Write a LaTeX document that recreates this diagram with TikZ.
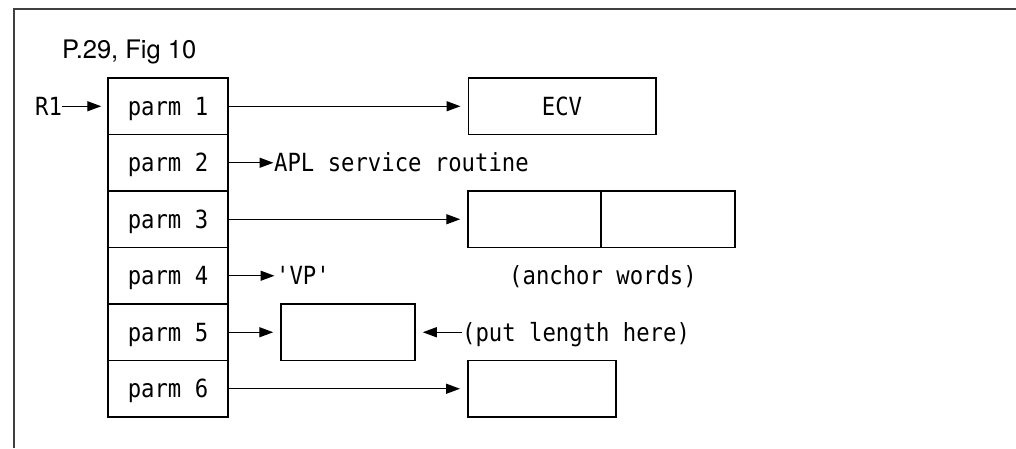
\documentclass[tikz,border=0pt]{standalone}
\usepackage{fontspec}
\setmainfont{TeX Gyre Heros}
\newfontfamily\monof[FakeStretch=0.89]{DejaVu Sans Mono}
\usetikzlibrary{arrows.meta}
\tikzset{
  mono/.style={font=\monof\fontsize{25}{30}\selectfont, text height=18.2pt, text depth=0pt, inner sep=0pt},
  cell/.style={mono, draw, line width=1.5pt, minimum width=120pt, minimum height=56.5pt},
  box/.style={draw, line width=1.5pt, minimum height=56.5pt, inner sep=0pt},
  lbl/.style={mono},
  arr/.style={line width=1.4pt, -{Triangle[length=14pt,width=10pt]}},
}
\begin{document}
\begin{tikzpicture}[x=1pt,y=-1pt]
\useasboundingbox (0,0) rectangle (1016,448);
\draw[line width=1.6pt, black!75] (14,448) -- (14,9) -- (1016,9);
\node[anchor=base west, inner sep=0pt, font=\fontsize{25.5}{30}\selectfont] (title) at (62,58.3) {P.29, Fig 10};
% column
\node[cell] (p1) at (168,106.25) {parm 1};
\node[cell] (p2) at (168,162.75) {parm 2};
\node[cell] (p3) at (168,219.25) {parm 3};
\node[cell] (p4) at (168,275.75) {parm 4};
\node[cell] (p5) at (168,332.25) {parm 5};
\node[cell] (p6) at (168,388.75) {parm 6};
% targets
\node[box, mono, minimum width=187.5pt] (ecv) at (562,106.25) {ECV};
\node[box, minimum width=133pt] (a3l) at (534.5,219.25) {};
\node[box, minimum width=134pt] (a3r) at (668,219.25) {};
\node[box, minimum width=134pt] (b5) at (348,332.25) {};
\node[box, minimum width=148pt] (b6) at (541.75,388.75) {};
% labels
\node[lbl, anchor=west] (r1) at (35,106.25) {R1};
\node[lbl, anchor=west] (apl) at (274,162.75) {APL service routine};
\node[lbl, anchor=west] (vp) at (276,275.75) {'VP'};
\node[lbl] (anch) at (603,275.75) {(anchor words)};
\node[lbl, anchor=west] (put) at (462,332.25) {(put length here)};
% connectors
\draw[arr, shorten >=6pt] (r1) -- (p1);
\draw[arr, shorten >=7pt] (p1) -- (ecv);
\draw[arr, shorten >=0.5pt] (p2) -- (apl);
\draw[arr, shorten >=1.5pt] (p4) -- (vp);
\draw[arr, shorten >=7pt] (p3) -- (a3l);
\draw[arr, shorten >=7pt] (p5) -- (b5);
\draw[arr, shorten >=7pt] (put) -- (b5);
\draw[arr, shorten >=7pt] (p6) -- (b6);
\end{tikzpicture}
\end{document}
